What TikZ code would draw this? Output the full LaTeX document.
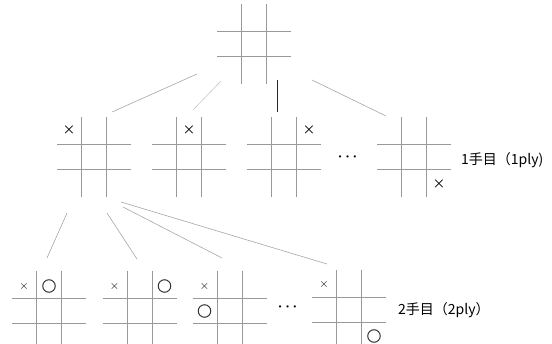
\documentclass[tikz,border=0pt]{standalone}
\usepackage{amsmath}
\usepackage{fontspec}
\newfontfamily\jpfont{Noto Sans CJK JP}
\usetikzlibrary{calc}

\tikzset{
  gridline/.style={gray!80,line width=0.6pt},
  edge/.style={gray!70,line width=0.6pt},
  boardbox/.style={minimum width=74pt,minimum height=80pt,inner sep=0pt},
  cross/.style={inner sep=0pt,font=\fontsize{15}{15}\selectfont},
  smallcross/.style={inner sep=0pt,font=\fontsize{13}{13}\selectfont},
  nought/.style={circle,draw=black!80,line width=1pt,minimum size=12.5pt,inner sep=0pt},
  plylabel/.style={anchor=west,inner sep=0pt,font=\jpfont\fontsize{14}{16}\selectfont},
  pics/grid/.style={code={
    \draw[gridline] (-37,-12.5) -- (37,-12.5) (-37,12.5) -- (37,12.5);
    \draw[gridline] (-12.5,-40) -- (-12.5,40) (12.5,-40) -- (12.5,40);
  }}
}

\begin{document}
\begin{tikzpicture}[x=1pt,y=-1pt]
	  \clip (0,0) rectangle (552,343);
	  % boards
	  \foreach \n/\x/\y in {top/254/44, a1/94/157, a2/189/157, a3/284/157, a4/414/157,
	                        b1/49/311, b2/139.5/311, b3/229.5/311, b4/349/310}{
	    \node[boardbox] (\n) at (\x,\y) {};
	    \pic at (\n) {grid};
	  }
	  % 1 ply
	  \node[cross] (xa1) at ($(a1)+(-25,-27)$) {$\boldsymbol\times$};
	  \node[cross] (xa2) at ($(a2)+(0,-27)$) {$\boldsymbol\times$};
	  \node[cross] (xa3) at ($(a3)+(25,-27)$) {$\boldsymbol\times$};
	  \node[cross] (xa4) at ($(a4)+(25,27)$) {$\boldsymbol\times$};
	  \node (da) at (349,157) {\Large$\boldsymbol\cdots$};
	  \node[plylabel] (la) at (461,160) {1手目（1ply)};
	  % 2 ply
	  \node[smallcross] (xb1) at ($(b1)+(-25,-25)$) {$\times$};
	  \node[nought] (ob1) at ($(b1)+(0,-25)$) {};
	  \node[smallcross] (xb2) at ($(b2)+(-25,-25)$) {$\times$};
	  \node[nought] (ob2) at ($(b2)+(25,-25)$) {};
	  \node[smallcross] (xb3) at ($(b3)+(-25,-25)$) {$\times$};
	  \node[nought] (ob3) at ($(b3)+(-25,0)$) {};
	  \node[smallcross] (xb4) at ($(b4)+(-25,-26)$) {$\times$};
	  \node[nought] (ob4) at ($(b4)+(25,26)$) {};
	  \node (db) at (289,307) {\Large$\boldsymbol\cdots$};
	  \node[plylabel] (lb) at (398,310) {2手目（2ply）};
	  % edges
	  \foreach \i/\sx/\sy/\ex/\ey in {1/197/74/112/112, 4/312/80/386/116,
	      5/67/213/47/258, 6/107/213/137/259, 7/123/207/222/258, 8/121/202/327/264}{
	    \coordinate (s\i) at (\sx,\sy);
	    \coordinate (e\i) at (\ex,\ey);
	    \draw[edge] (s\i) -- (e\i);
	  }
	  \coordinate (s2) at (221,81);
	  \coordinate (e2) at (193,110);
	  \draw[edge,gray!45] (s2) -- (e2);
	  \coordinate (s3) at (277,80);
	  \coordinate (e3) at (277,112);
	  \draw[black!85,line width=1pt] (s3) -- (e3);
\end{tikzpicture}
\end{document}
